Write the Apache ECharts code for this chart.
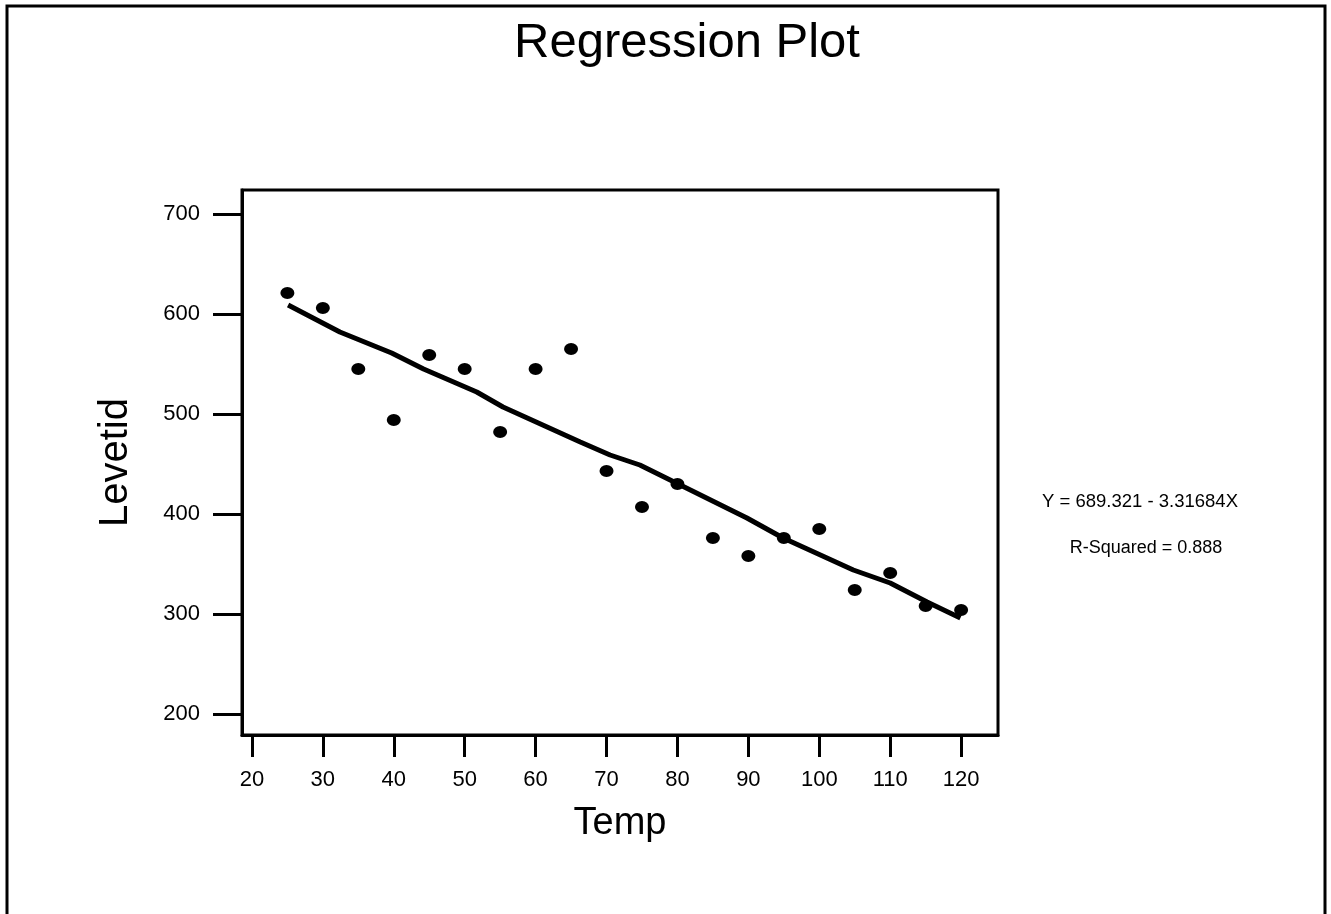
<!DOCTYPE html>
<html>
<head>
<meta charset="utf-8">
<title>Regression Plot</title>
<script src="https://cdn.jsdelivr.net/npm/echarts@6.0.0/dist/echarts.min.js"></script>
<style>
  html, body { margin: 0; padding: 0; background: #fff; }
  #chart { width: 1331px; height: 914px; }
</style>
</head>
<body>
<div id="chart"></div>
<script>
// observed points (Temp, Levetid)
const temp = [25, 30, 35, 40, 45, 50, 55, 60, 65, 70, 75, 80, 85, 90, 95, 100, 105, 110, 115, 120]
const levetid = [621, 606, 545, 494, 559, 545, 482, 545, 565, 443, 407, 430, 376, 358, 376, 385, 324, 341, 308, 304]

// fitted line as drawn in the picture (a little wobbly)
const fitX = [25.1, 32.4, 39.7, 44.2, 51.7, 55.4, 66.3, 70.5, 74.7, 80.4, 89.8, 94.9, 104.8, 110, 115.2, 119.9]
const fitY = [609, 582, 561, 545, 522, 507, 472, 459, 449, 429, 396, 376, 344, 331, 312, 296]

const xTicks = [20, 30, 40, 50, 60, 70, 80, 90, 100, 110, 120]
const yTicks = [200, 300, 400, 500, 600, 700]

const equation = "Y = 689.321 - 3.31684X"
const rSquared = "R-Squared = 0.888"

const FONT = "'Liberation Sans', Arial, Helvetica, sans-serif"

const chart = echarts.init(document.getElementById("chart"))

chart.setOption({
    backgroundColor: "#fff",
    animation: false,
    title: {
        text: "Regression Plot",
        left: 682,
        textAlign: "center",
        top: 14,
        textStyle: { fontFamily: FONT, fontSize: 49, fontWeight: "normal", color: "#000" }
    },
    grid: {
        left: 242, top: 190, right: 333, bottom: 179,
        show: true, borderColor: "#000", borderWidth: 3, backgroundColor: "transparent"
    },
    xAxis: {
        type: "value",
        min: 18.6, max: 125.2,
        name: "Temp",
        nameLocation: "middle",
        nameGap: 70,
        nameTextStyle: { fontFamily: FONT, fontSize: 38, color: "#000" },
        axisLine: { show: true, lineStyle: { color: "#000", width: 3 } },
        axisTick: { show: true, inside: false, length: 22, customValues: xTicks, lineStyle: { color: "#000", width: 3 } },
        axisLabel: { customValues: xTicks, margin: 34, fontFamily: FONT, fontSize: 22, color: "#000" },
        splitLine: { show: false }
    },
    yAxis: {
        type: "value",
        min: 179, max: 724,
        name: "Levetid",
        nameLocation: "middle",
        nameRotate: 90,
        nameGap: 106,
        nameTextStyle: { fontFamily: FONT, fontSize: 40, color: "#000" },
        axisLine: { show: true, lineStyle: { color: "#000", width: 3 } },
        axisTick: { show: true, inside: false, length: 29, customValues: yTicks, lineStyle: { color: "#000", width: 3 } },
        axisLabel: { customValues: yTicks, margin: 42, fontFamily: FONT, fontSize: 22, color: "#000" },
        splitLine: { show: false }
    },
    series: [
        {
            type: "line",
            data: fitX.map((x, i) => [x, fitY[i]]),
            showSymbol: false,
            smooth: false,
            lineStyle: { color: "#000", width: 5 },
            z: 2
        },
        {
            type: "scatter",
            data: temp.map((t, i) => [t, levetid[i]]),
            symbol: "circle",
            symbolSize: [14, 12],
            itemStyle: { color: "#000", opacity: 1 },
            z: 3
        }
    ],
    graphic: [
        {
            type: "rect",
            shape: { x: 7, y: 6, width: 1318, height: 930 },
            style: { fill: "none", stroke: "#000", lineWidth: 3 },
            silent: true
        },
        {
            type: "text",
            x: 1140, y: 502,
            style: { text: equation, fontFamily: FONT, fontSize: 18.5, fill: "#000", align: "center", verticalAlign: "middle" }
        },
        {
            type: "text",
            x: 1146, y: 548,
            style: { text: rSquared, fontFamily: FONT, fontSize: 18, fill: "#000", align: "center", verticalAlign: "middle" }
        }
    ]
})
</script>
</body>
</html>
